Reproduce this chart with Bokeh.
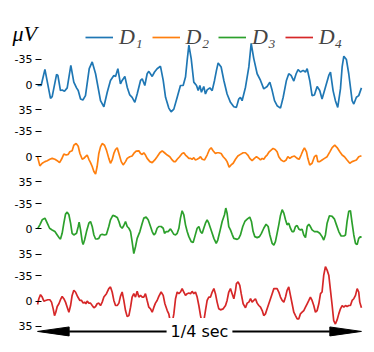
from bokeh.plotting import figure
from bokeh.models import Range1d, FixedTicker, Legend, LegendItem, Label
from bokeh.embed import file_html
from bokeh.resources import INLINE

# ---- data (time in ms, amplitude in microvolts; negative is drawn upward) ----
t1 = [0, 2.8, 5.7, 10.0, 11.3, 14.7, 15.7, 17.7, 19.0, 20.8, 22.9, 25.7, 28.0, 30.1, 31.4, 33.2, 35.0,
      37.0, 39.9, 42.2, 44.8, 48.6, 51.2, 53.8, 56.3, 58.9, 60.2, 62.0, 64.0, 65.3, 67.4, 69.2, 71.2,
      73.0, 75.1, 76.9, 79.5, 80.8, 82.8, 84.6, 85.9, 88.5, 90.3, 92.3, 94.9, 97.0, 98.8, 101.3, 103.1,
      105.2, 107.8, 110.3, 112.4, 114.2, 115.5, 116.8, 118.6, 120.6, 122.7, 124.0, 125.3, 126.5, 128.3,
      129.6, 130.9, 133.0, 134.8, 136.6, 138.1, 139.4, 141.7, 143.8, 146.3, 148.9, 151.5, 153.5, 155.3,
      156.6, 157.9, 160.5, 163.1, 164.9, 166.9, 169.5, 172.1, 174.6, 177.2, 179.3, 181.1, 182.9, 184.9,
      187.5, 189.6, 192.1, 193.9, 195.7, 197.8, 199.6, 201.1, 202.9, 205.0, 206.8, 208.1, 210.1, 211.9,
      213.7, 215.8, 217.8, 219.6, 222.2, 224.8, 226.1, 228.1, 229.9, 231.7, 233.8, 235.1, 236.4, 238.4,
      240.2, 242.8, 244.1, 246.1, 247.9, 250.0]
d1 = [1.4, 1.4, -21, 19.1, 16.8, -14, -12.6, 8.4, 7.5, 9.3, 4.7, -26.6, -3.3, 4.7, 8.4, 20.1, 21.5,
      15.4, -21.9, -31.3, -14.9, 22.4, 30.8, 10.7, -5.6, -12.6, -11.2, -21.9, -0.9, -5.6, -11.2, 3.7, 14.5,
      17.7, 24.7, 13.1, -5.6, -7.9, 1.4, -14.9, -18.2, -11.2, -17.3, -21.9, -25.2, -5.6, 17.7, 32.7, 37.8,
      34.1, 17.7, 1.4, 1.4, -10.3, -33.6, -54.6, -35.9, -3.3, 1.4, 8.4, 1.4, 10.7, 2.8,
      13.1, 7.5, 4.7, 8.4, -5.6, -19.6, -29.9, -24.3, -5.6, 13.1, 24.7, 30.8, 31.7, 20.1,
      17.7, 22.4, 3.7, -24.3, -56.9, -35.9, -14.9, -5.6, 6.1, 2.8, -3.3, 8.4, 22.4, 29.4,
      32.7, 17.7, -5.6, -14.9, -12.6, -4.7, -14.9, -20.5, -17.3, -19.6, -17.3, -21.9, -5.6, 15.4,
      14.5, 2.8, 8.4, 20.1, 3.7, -12.6, -17.3, 8.4, 22.4, 31.7, 6.1, -24.3, -39.2, -34.5,
      -14.9, 22.4, 27.1, 17.7, 15.4, 4.7]

t2 = [0, 1.8, 3.6, 5.7, 7.5, 9.5, 11.3, 13.4, 15.2, 17.0, 18.5, 20.3, 22.1, 23.7, 24.9, 26.7, 28.0,
      29.8, 31.4, 32.7, 34.5, 35.8, 37.0, 38.3, 39.6, 40.9, 42.2, 43.5, 44.8, 46.0, 47.3, 48.6, 49.9,
      51.7, 53.2, 55.0, 56.3, 57.6, 58.9, 60.2, 61.5, 62.8, 64.6, 66.1, 67.9, 69.2, 71.2, 73.0, 74.3,
      76.1, 78.2, 79.5, 80.8, 82.0, 83.3, 84.6, 86.7, 88.5, 90.5, 92.3, 94.4, 96.2, 98.0, 100.1, 102.1,
      103.9, 105.2, 106.5, 107.8, 109.6, 111.6, 112.9, 114.2, 115.5, 116.8, 118.1, 119.3, 120.6, 121.9,
      123.2, 124.5, 125.8, 127.1, 128.9, 130.9, 132.7, 134.0, 135.5, 137.3, 138.6, 139.9, 141.7, 143.3,
      145.1, 146.3, 147.9, 149.4, 151.0, 152.8, 154.6, 156.6, 158.7, 160.5, 162.3, 163.8, 165.6, 167.4,
      169.0, 170.8, 172.1, 173.4, 174.6, 175.9, 177.2, 178.8, 180.3, 181.8, 183.4, 184.9, 186.2, 188.0,
      190.1, 191.9, 193.2, 194.7, 196.5, 198.3, 200.4, 201.9, 203.4, 205.0, 206.0, 207.6, 208.6, 210.1,
      211.9, 213.7, 215.3, 216.3, 217.8, 219.6, 221.5, 223.5, 225.6, 227.4, 229.4, 231.2, 233.3, 235.1,
      236.9, 238.9, 241.0, 242.8, 244.6, 246.1, 247.9, 250.0]
d2 = [0, 12.7, 9.1, 6.8, 5.5, 3.6, 2.3, 3.6, 5.5, 8.2, 3.6, -3.6, -2.3, -3.2, -6.8, -8.2, -15.9,
      -18.2, -14.5, -4.5, 3.6, 2.3, 0, -2.3, 3.6, 8.2, 13.6, 20.5, 24.1, 13.6, -4.5, -13.6, -18.2,
      -15.9, -9.1, 2.3, 9.1, 4.5, -4.5, -10.0, -12.3, -4.5, 6.8, 11.4, 6.8, 2.3, 0, -0.9, -4.5,
      -7.7, -8.2, -4.5, -3.2, -5.5, -2.3, 2.3, 6.8, 8.2, 4.5, 0, -5.5, -8.2, -5.5, -2.3, 0,
      4.5, 6.8, 6.8, 3.6, 0, -4.5, -5.5, -2.3, 0, 2.3, 2.3, 3.6, 1.4, 4.5,
      3.6, 2.3, 0, 3.6, 4.5, -2.3, -10.0, -12.3, -8.2, -4.5, -5.5, -5.5, -4.5, 0,
      3.6, 6.8, 14.5, 11.4, 9.1, 3.6, -0.9, -3.2, -5.5, -5.5, -2.3, 2.3, 5.5, 2.3,
      0, 2.3, 4.5, 2.3, 3.6, 0, -2.3, -6.8, -9.1, -11.4, -10.0, -6.8, 0, 4.5,
      6.8, 4.5, 0, 2.3, 0, -0.9, 2.3, 3.6, -2.3, -9.1, -12.3, -6.8, 2.3, 11.4,
      9.1, 0, -2.3, 6.8, 6.8, 4.5, 2.3, 0, -6.8, -12.7, -15.9, -12.7, -6.8, -2.3,
      0, 4.5, 9.1, 6.8, 5.5, 4.5, 0, -1.4]

t3 = [0, 1.8, 3.6, 5.7, 7.5, 9.3, 11.3, 13.4, 15.2, 17.0, 17.7, 19.0, 20.3, 21.6, 22.9, 24.2, 25.5,
      26.7, 28.0, 30.1, 31.4, 32.1, 33.2, 34.5, 35.2, 36.3, 37.8, 39.6, 40.9, 42.2, 43.5, 44.8, 46.0,
      47.3, 48.6, 49.9, 51.7, 53.2, 55.0, 56.3, 58.1, 60.2, 61.5, 62.8, 64.0, 65.3, 66.6, 67.9, 69.2,
      70.5, 71.8, 73.0, 74.3, 75.6, 76.9, 79.0, 80.8, 82.0, 83.8, 85.4, 87.2, 88.5, 89.8, 91.0, 92.3,
      93.6, 95.4, 97.0, 98.0, 99.3, 100.8, 102.6, 103.9, 105.2, 106.5, 107.8, 109.1, 110.3, 111.6, 112.9,
      114.2, 115.5, 116.8, 118.6, 120.1, 121.4, 123.2, 124.5, 125.8, 127.1, 128.3, 129.6, 130.9, 132.2,
      133.5, 134.8, 136.1, 137.9, 139.1, 140.7, 142.5, 144.3, 145.3, 146.3, 147.6, 148.9, 150.2, 151.5,
      154.1, 155.3, 156.6, 158.4, 160.0, 161.8, 163.8, 165.1, 166.4, 167.7, 169.5, 171.3, 172.8, 174.6,
      176.4, 178.0, 179.3, 181.1, 182.4, 183.6, 184.9, 186.2, 187.5, 188.8, 190.1, 191.4, 192.6, 193.9,
      195.2, 196.5, 197.8, 199.1, 200.4, 201.6, 202.9, 204.2, 205.5, 206.8, 208.1, 209.4, 210.6, 211.9,
      213.7, 215.8, 217.8, 219.6, 220.9, 222.2, 223.5, 225.3, 227.4, 229.2, 230.7, 232.5, 234.3, 236.4,
      237.7, 238.9, 240.2, 241.5, 242.8, 244.1, 245.4, 246.7, 247.9, 249.2, 250.0]
d3 = [0, -5.6, -12.6, -14.9, -7.9, -0.9, 1.4, 3.7, 8.4, 13.1, 14.0, 6.1, -7.9, -20.5, -23.3, -19.6, -7.9,
      6.1, 8.4, 6.1, -3.3, -9.3, 1.4, 17.7, 21.5, 15.4, 3.7, -7.9, -10.3, -3.3, 8.4, 14.0, 14.0,
      13.1, 8.4, 7.5, 8.4, 7.5, -3.3, -12.6, -18.7, -17.3, -15.9, -10.3, -3.3, -0.9, -4.7, -10.3, -3.3,
      -0.9, 3.7, 17.7, 34.1, 24.7, 13.1, 3.7, -7.9, -14.9, -16.3, -12.6, -3.3, 3.7, 8.4, 6.1, -0.9,
      -3.3, -3.3, -0.9, 6.1, 3.7, 3.7, 0, 3.7, 7.5, 8.4, 6.1, -0.9, -14.9, -25.2, -19.6,
      -5.6, 3.7, 10.7, 17.7, 18.7, 10.7, -0.9, -3.3, 3.7, 6.1, -0.9, -7.9, -12.6, -7.9,
      -0.9, 6.1, 13.1, 20.1, 15.4, 3.7, -10.3, -19.6, -28.9, -21.9, -3.3, 1.4, 7.5, 13.1,
      14.5, 13.1, 8.4, -3.3, -10.3, -13.5, -16.3, -10.3, 3.7, 10.7, 12.1, 10.7, 6.1, -0.9,
      -6.5, -3.3, 8.4, 20.1, 22.4, 17.7, 6.1, -5.6, -18.7, -26.6, -21.9, -12.6, -5.6, -7.9,
      -0.9, 3.7, 3.7, -3.3, -4.7, 0, 1.4, 0.5, 8.4, 12.1, -3.3, -6.5, -3.3, 1.4,
      3.7, 3.7, 6.1, 10.7, 15.4, 8.4, -7.9, -18.2, -17.3, -13.5, -5.6, 3.7, 9.8, 9.8,
      8.4, -10.3, -24.3, -25.2, -7.9, 8.4, 20.1, 21.5, 13.1, 10.7, 12.1]

t4 = [0, 1.0, 2.3, 3.6, 4.9, 6.2, 8.0, 9.5, 10.8, 12.1, 13.1, 14.1, 15.2, 16.5, 17.7, 19.0, 20.3,
      21.6, 22.9, 24.2, 25.5, 26.7, 28.0, 29.3, 31.1, 32.7, 34.0, 35.2, 36.3, 37.3, 38.3, 39.6, 40.9,
      42.2, 43.5, 44.8, 46.0, 47.3, 48.6, 49.9, 51.2, 53.2, 55.0, 56.3, 57.6, 58.9, 60.2, 61.5, 62.8,
      64.0, 65.3, 66.6, 67.9, 69.2, 70.5, 71.8, 73.0, 74.3, 75.6, 76.9, 78.2, 79.5, 80.8, 82.0, 83.3,
      84.6, 85.9, 87.2, 88.5, 89.8, 91.0, 92.3, 93.6, 95.4, 97.0, 98.3, 100.1, 101.3, 102.6, 103.9,
      105.2, 106.5, 107.8, 109.1, 110.3, 111.6, 112.9, 114.2, 115.5, 116.8, 118.1, 119.3, 120.6, 121.9,
      123.2, 124.5, 125.8, 127.1, 128.3, 129.6, 130.9, 132.2, 133.5, 134.8, 136.1, 137.3, 138.6, 139.9,
      141.2, 143.3, 145.1, 146.3, 147.6, 148.9, 150.2, 151.5, 152.8, 153.5, 154.8, 156.1, 157.2, 158.7,
      160.5, 161.8, 163.1, 164.4, 165.6, 166.9, 168.2, 169.5, 170.8, 172.1, 173.4, 174.6, 175.9, 177.2,
      178.5, 179.8, 181.1, 182.4, 183.6, 184.9, 186.2, 187.5, 188.8, 190.1, 191.4, 192.6, 193.9, 195.2,
      196.5, 197.8, 199.1, 200.4, 201.6, 202.9, 204.2, 205.5, 206.8, 208.1, 209.4, 210.6, 211.9, 213.2,
      214.5, 215.8, 217.1, 218.4, 219.6, 220.9, 222.2, 223.5, 224.8, 226.1, 227.4, 228.6, 229.9, 231.2,
      232.5, 233.8, 235.1, 236.4, 237.7, 238.9, 240.2, 241.5, 242.8, 244.1, 245.4, 246.7, 247.9, 248.7,
      250.0]
d4 = [4.7, -3.3, -8.9, -5.6, 0, -0.9, -1.9, -1.9, 1.4, 10.7, 20.1, 15.4, 7.5, 3.7, -1.9, -6.5, -3.3,
      1.4, 8.4, 15.4, 6.1, -7.9, -14.9, -12.6, -5.6, -0.9, -0.9, 2.8, 1.4, 3.7, 0, 2.8, 2.8,
      6.1, 9.3, 7.5, 3.7, 2.8, 6.1, 1.4, -5.6, -10.3, -17.3, -19.6, -12.6, -0.9, 6.1, 6.1, 2.8,
      -6.5, -12.6, -0.9, 13.1, 21.5, 20.1, 8.4, -5.6, -10.3, -5.6, -13.5, -5.6, -7.9, -5.6, -5.6, -10.3,
      -0.9, 8.4, 10.7, 15.4, 8.4, 2.8, -0.9, -6.5, -12.6, -7.9, 3.7, 13.1, 17.7, 29.4, 30.8,
      17.7, -3.3, -12.6, -10.3, -12.6, -17.3, -12.6, -7.9, -10.3, -11.2, -10.3, -13.5, -10.3, -12.6,
      -5.6, 6.1, 20.1, 31.7, 28.0, 13.1, -0.9, -5.6, -5.6, -12.6, -17.3, -10.3, 1.4, 10.7,
      12.1, 10.7, 6.1, -0.9, -12.6, -17.3, -10.3, -3.3, -14.9, -24.3, -26.6, -21.9, -10.3, 3.7,
      9.3, 2.8, 1.4, -3.3, 1.4, -0.9, -3.3, 2.8, 6.1, 8.4, 13.1, 20.1, 17.7, 10.7,
      3.7, -3.3, -10.3, -17.3, -17.3, -17.3, -12.6, -5.6, -0.9, 1.4, -5.6, -14.9, -19.6, -7.9,
      3.7, 15.4, 20.1, 24.7, 24.7, 17.7, 15.4, 13.1, 8.4, 3.7, -0.9, -5.6, -0.9, 6.1,
      15.4, 13.1, 3.7, -10.3, -12.6, -35.9, -47.6, -42.9, -35.9, -14.9, 6.1, 27.1, 31.7, 26.1,
      17.7, 10.7, 6.1, 8.4, 6.1, 7.5, 6.1, 6.1, -0.9, -3.3, -7.9, -17.3, -12.6, 1.4,
      9.3]

names = ["D\u2081", "D\u2082", "D\u2083", "D\u2084"]
colors = ["#1f77b4", "#ff7f0e", "#2ca02c", "#d62728"]
tick_values = [-35, 0, 35]
channel_gap = 100
times = [t1, t2, t3, t4]
signals = [d1, d2, d3, d4]
scale_label = "1/4 sec"
unit_label = "\u03bcV"

# ---- figure ----
p = figure(width=366, height=344, output_backend="svg", toolbar_location=None,
           x_axis_location=None, min_border_left=36, min_border_right=0,
           min_border_top=25, min_border_bottom=0,
           x_range=Range1d(-0.8, 253.9), y_range=Range1d(360.1, -81.72))
p.outline_line_color = None
p.grid.visible = False
p.background_fill_color = "white"

items = []
for i, (tt, dd) in enumerate(zip(times, signals)):
    off = i * channel_gap
    r = p.line(tt, [v + off for v in dd], line_color=colors[i], line_width=1.7)
    items.append(LegendItem(label=names[i], renderers=[r]))

ticks, overrides = [], {}
for i in range(len(signals)):
    for tv in tick_values:
        ticks.append(i * channel_gap + tv)
        overrides[i * channel_gap + tv] = str(tv)
ax = p.yaxis[0]
ax.ticker = FixedTicker(ticks=ticks)
ax.major_label_overrides = overrides
ax.axis_line_color = None
ax.minor_tick_line_color = None
ax.major_tick_in = 5
ax.major_tick_out = 1
ax.major_tick_line_color = "black"
ax.major_label_standoff = 3
ax.major_label_text_font = "DejaVu Sans"
ax.major_label_text_font_size = "11px"
ax.major_label_text_color = "black"

# scale arrow (1/4 sec) along the bottom
arrow_y = 342
head_len = 24.4
head_half = 6.2
t_start, t_end = times[0][0], times[0][-1]
p.line([t_start + head_len, t_end - head_len], [arrow_y, arrow_y], line_color="black", line_width=2)
p.patch([t_start, t_start + head_len, t_start + head_len],
        [arrow_y, arrow_y - head_half, arrow_y + head_half], color="black")
p.patch([t_end, t_end - head_len, t_end - head_len],
        [arrow_y, arrow_y - head_half, arrow_y + head_half], color="black")
p.add_layout(Label(x=(t_start + t_end) / 2, y=arrow_y, text=scale_label, text_align="center",
                   text_baseline="middle", text_font="DejaVu Sans", text_font_size="16px",
                   text_color="black", background_fill_color="white", padding=4))

# unit label sits outside the frame: put it in a side panel so it is not clipped
p.add_layout(Label(x=-19.3, y=-70.0, text=unit_label, text_line_height=0.7,
                   text_align="left", text_baseline="alphabetic", text_font="Liberation Serif",
                   text_font_style="italic", text_font_size="22px", text_color="black"), "above")

legend = Legend(items=items, orientation="horizontal", location=(49, 294),
                border_line_color=None, background_fill_alpha=0, padding=0, margin=0,
                spacing=9, glyph_width=28, glyph_height=24, label_height=24, label_width=23,
                label_standoff=6, label_text_font="Liberation Serif",
                label_text_font_style="italic", label_text_font_size="22px")
p.add_layout(legend)

open("out.html", "w").write(file_html(p, INLINE))
